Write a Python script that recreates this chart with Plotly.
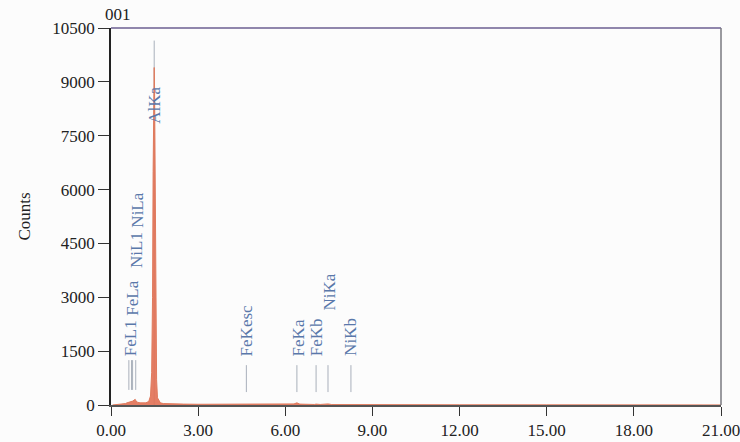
import plotly.graph_objects as go

# Spectrum (energy keV, counts)
energy = [0.05, 0.20, 0.30, 0.40, 0.50, 0.55, 0.60, 0.65, 0.70, 0.75, 0.80, 0.83, 0.86, 0.90,
          1.00, 1.10, 1.20, 1.30, 1.36, 1.40, 1.43, 1.45, 1.47, 1.487, 1.50, 1.52, 1.54, 1.57,
          1.60, 1.70, 1.80, 2.00, 2.50, 3.00, 4.00, 5.00, 6.00, 6.30, 6.40, 6.50, 7.00, 7.06,
          7.20, 7.48, 7.60, 8.00, 9.00, 10.0, 12.0, 15.0, 18.0, 21.0]
counts = [0, 10, 15, 25, 40, 60, 70, 90, 100, 110, 140, 160, 120, 80,
          60, 50, 60, 100, 250, 900, 3000, 6500, 9000, 9400, 8800, 5500, 2200, 700,
          200, 60, 40, 30, 25, 20, 18, 15, 15, 30, 60, 25, 15, 25,
          15, 30, 12, 10, 8, 6, 5, 4, 3, 2]

# Element marker lines
line_names = ["FeL1", "FeLa", "NiL1", "NiLa", "AlKa", "FeKesc", "FeKa", "FeKb", "NiKa", "NiKb"]
line_energy = [0.615, 0.705, 0.743, 0.851, 1.487, 4.66, 6.40, 7.06, 7.47, 8.26]
line_low = [420, 420, 420, 420, 0, 360, 360, 360, 360, 360]
line_high = [1250, 1250, 1250, 1250, 10150, 1110, 1110, 1110, 1110, 1110]
# Label positions (x in keV, y = bottom of rotated text in counts)
label_x = [0.65, 0.76, 0.86, 0.93, 1.49, 4.68, 6.47, 7.10, 7.54, 8.26]
label_y = [1300, 2420, 3760, 4870, 7770, 1310, 1310, 1310, 2560, 1310]

xticks = [0, 3, 6, 9, 12, 15, 18, 21]
xticklabels = ["0.00", "3.00", "6.00", "9.00", "12.00", "15.00", "18.00", "21.00"]
yticks = [0, 1500, 3000, 4500, 6000, 7500, 9000, 10500]
yticklabels = ["0", "1500", "3000", "4500", "6000", "7500", "9000", "10500"]

fig = go.Figure()

for e, lo, hi, n in zip(line_energy, line_low, line_high, line_names):
    fig.add_trace(go.Scatter(x=[e, e], y=[lo, hi], mode="lines",
                             line=dict(color="#a9b0bb", width=1), showlegend=False,
                             hoverinfo="skip"))

fig.add_trace(go.Scatter(x=energy, y=counts, mode="lines", fill="tozeroy",
                         line=dict(color="#e07a5c", width=1),
                         fillcolor="rgba(226,112,84,0.9)", showlegend=False))

serif = "Liberation Serif, Times New Roman, serif"
for n, x, y in zip(line_names, label_x, label_y):
    fig.add_annotation(x=x, y=y, text=n, textangle=-90, showarrow=False,
                       xanchor="center", yanchor="bottom",
                       font=dict(family=serif, size=17, color="#5a78aa"))

fig.add_annotation(xref="paper", yref="paper", x=-0.013, y=1.005, text="001",
                   showarrow=False, xanchor="left", yanchor="bottom",
                   font=dict(family=serif, size=17, color="#222"))

# frame: top (purple) and right (grey)
fig.add_shape(type="line", xref="paper", yref="paper", x0=0, x1=1, y0=1, y1=1,
              line=dict(color="#6c5f92", width=1.5))
fig.add_shape(type="line", xref="paper", yref="paper", x0=1, x1=1, y0=0, y1=1,
              line=dict(color="#7a7a80", width=1.5))

fig.update_layout(
    width=740, height=442,
    margin=dict(l=111, r=19, t=28, b=37, autoexpand=False),
    paper_bgcolor="#fcfcfc", plot_bgcolor="#fcfcfc",
    font=dict(family=serif, size=17, color="#222"),
    xaxis=dict(range=[0, 21], tickvals=xticks, ticktext=xticklabels,
               ticks="outside", ticklen=9, tickcolor="#333", showgrid=False,
               zeroline=False, showline=True, linecolor="#555", linewidth=1.5,
               ticklabeloverflow="allow", automargin=False,
               tickfont=dict(family=serif, size=17, color="#222")),
    yaxis=dict(range=[0, 10500], tickvals=yticks, ticktext=yticklabels,
               ticks="outside", ticklen=11, automargin=False,
               tickcolor="#333", showgrid=False, zeroline=False, showline=True,
               linecolor="#222", linewidth=1.5,
               title=dict(text="Counts", font=dict(family=serif, size=17, color="#222"),
                          standoff=17),
               tickfont=dict(family=serif, size=17, color="#222")),
)

fig.write_html("out.html")
